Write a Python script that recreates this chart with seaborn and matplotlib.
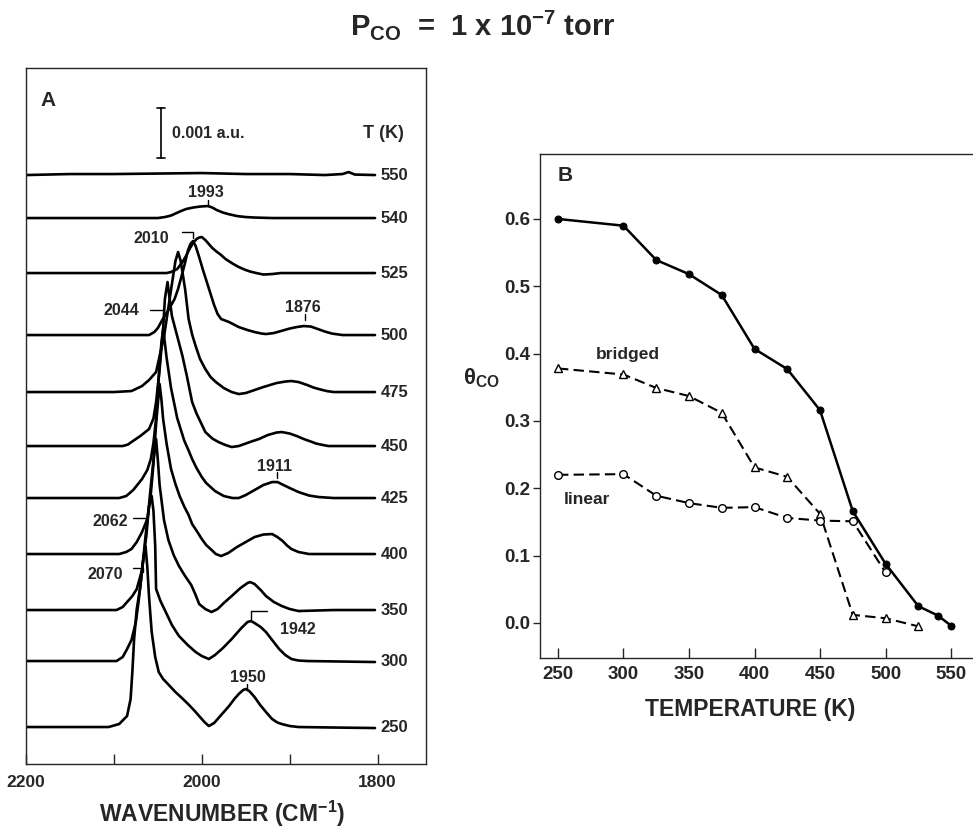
import matplotlib
matplotlib.use('Agg')
import matplotlib.pyplot as plt
import numpy as np
import seaborn as sns

# ---------------- panel A : IR spectra, absorbance in units of 0.001 a.u. ----------------
temps_A = [550, 540, 525, 500, 475, 450, 425, 400, 350, 300, 250]

wn_550 = [2200, 2150, 2100, 2050, 2000, 1950, 1900, 1860, 1840, 1833, 1826, 1803]
ab_550 = [0.0, 0.02, 0.02, 0.03, 0.04, 0.02, 0.02, 0.0, 0.02, 0.06, 0.01, 0.0]

wn_540 = [2200, 2100, 2050, 2042, 2035, 2025, 2018, 2010, 2002, 1993, 1988, 1983, 1976, 1970,
          1960, 1950, 1940, 1920, 1803]
ab_540 = [0.0, 0.0, 0.0, 0.02, 0.05, 0.13, 0.18, 0.21, 0.23, 0.24, 0.21, 0.16, 0.11, 0.08,
          0.04, 0.02, 0.01, 0.0, 0.0]

wn_525 = [2200, 2100, 2040, 2035, 2028, 2022, 2018, 2014, 2010, 2006, 2003, 2000, 1996, 1992,
          1988, 1984, 1978, 1973, 1965, 1958, 1950, 1945, 1938, 1930, 1920, 1910, 1803]
ab_525 = [0.0, 0.0, 0.0, 0.02, 0.08, 0.22, 0.34, 0.48, 0.6, 0.68, 0.71, 0.72, 0.66, 0.58,
          0.5, 0.44, 0.36, 0.28, 0.19, 0.12, 0.06, 0.03, 0.0, -0.03, -0.02, 0.0, 0.0]

wn_500 = [2200, 2100, 2060, 2054, 2050, 2045, 2038, 2031, 2027, 2023, 2019, 2016, 2013, 2010,
          2007, 2003, 1999, 1995, 1990, 1986, 1982, 1978, 1969, 1958, 1948, 1940, 1932, 1927,
          1918, 1910, 1900, 1892, 1884, 1876, 1868, 1860, 1852, 1840, 1803]
ab_500 = [0.0, 0.0, 0.0, 0.06, 0.14, 0.3, 0.5, 0.72, 0.92, 1.18, 1.45, 1.68, 1.82, 1.88,
          1.78, 1.56, 1.32, 1.1, 0.82, 0.6, 0.42, 0.32, 0.26, 0.16, 0.1, 0.06, 0.03, 0.02,
          0.04, 0.08, 0.13, 0.16, 0.18, 0.17, 0.12, 0.07, 0.03, 0.0, 0.0]

wn_475 = [2200, 2100, 2080, 2068, 2060, 2052, 2047, 2043, 2040, 2034, 2030, 2027, 2024, 2019,
          2015, 2011, 2007, 2002, 1996, 1990, 1984, 1975, 1966, 1958, 1950, 1940, 1930, 1915,
          1905, 1898, 1890, 1880, 1873, 1867, 1858, 1850, 1803]
ab_475 = [0.0, 0.0, 0.02, 0.12, 0.24, 0.4, 0.8, 1.1, 1.46, 2.16, 2.62, 2.8, 2.62, 2.06,
          1.46, 1.15, 0.92, 0.66, 0.46, 0.3, 0.2, 0.08, 0.0, -0.04, -0.02, 0.04, 0.1, 0.18,
          0.21, 0.22, 0.2, 0.14, 0.09, 0.06, 0.02, 0.0, 0.0]

wn_450 = [2200, 2090, 2084, 2080, 2070, 2060, 2055, 2052, 2048, 2044, 2042, 2039, 2037, 2034,
          2028, 2022, 2017, 2011, 2006, 2003, 1996, 1988, 1981, 1973, 1966, 1958, 1950, 1942,
          1935, 1925, 1915, 1909, 1900, 1892, 1884, 1876, 1870, 1862, 1856, 1803]
ab_450 = [0.0, 0.0, 0.03, 0.08, 0.2, 0.34, 0.55, 0.88, 1.54, 2.34, 2.94, 3.28, 3.0, 2.6,
          2.2, 1.8, 1.4, 0.88, 0.65, 0.54, 0.28, 0.15, 0.08, 0.02, -0.02, 0.0, 0.05, 0.1,
          0.14, 0.22, 0.27, 0.28, 0.25, 0.2, 0.14, 0.09, 0.05, 0.02, 0.0, 0.0]

wn_425 = [2200, 2094, 2086, 2078, 2068, 2062, 2058, 2055, 2052, 2049, 2046, 2044, 2042, 2040,
          2035, 2028, 2020, 2015, 2011, 2006, 2000, 1995, 1985, 1975, 1965, 1958, 1950, 1940,
          1930, 1920, 1914, 1907, 1900, 1890, 1878, 1867, 1850, 1803]
ab_425 = [0.0, 0.0, 0.04, 0.16, 0.38, 0.56, 0.78, 1.1, 1.6, 2.4, 3.1, 3.38, 3.1, 2.8,
          2.2, 1.6, 1.15, 0.95, 0.78, 0.6, 0.42, 0.3, 0.14, 0.04, 0.0, 0.0, 0.06, 0.16,
          0.26, 0.32, 0.32, 0.26, 0.2, 0.12, 0.05, 0.02, 0.0, 0.0]

wn_400 = [2200, 2094, 2086, 2080, 2074, 2068, 2062, 2058, 2055, 2052, 2049, 2048, 2046, 2044,
          2040, 2035, 2030, 2025, 2020, 2015, 2011, 2005, 2000, 1995, 1990, 1984, 1978, 1970,
          1960, 1950, 1940, 1930, 1920, 1914, 1908, 1903, 1898, 1890, 1878, 1803]
ab_400 = [0.0, 0.0, 0.04, 0.1, 0.24, 0.44, 0.7, 1.2, 1.8, 2.6, 3.2, 3.4, 3.1, 2.7,
          2.2, 1.7, 1.4, 1.15, 0.95, 0.78, 0.6, 0.44, 0.3, 0.18, 0.1, 0.0, -0.04, 0.02,
          0.14, 0.24, 0.34, 0.39, 0.4, 0.34, 0.26, 0.17, 0.1, 0.04, 0.0, 0.0]

wn_350 = [2200, 2097, 2090, 2085, 2079, 2074, 2068, 2063, 2059, 2055, 2052, 2050, 2048, 2043,
          2038, 2032, 2026, 2019, 2012, 2007, 2003, 1996, 1989, 1982, 1975, 1966, 1956, 1948,
          1945, 1940, 1933, 1927, 1918, 1909, 1900, 1890, 1850, 1803]
ab_350 = [0.0, 0.0, 0.06, 0.16, 0.28, 0.42, 0.8, 1.5, 2.3, 3.0, 3.42, 3.0, 2.5, 1.8,
          1.4, 1.1, 0.88, 0.68, 0.5, 0.3, 0.12, 0.02, -0.04, 0.02, 0.14, 0.28, 0.44, 0.54,
          0.56, 0.52, 0.4, 0.28, 0.16, 0.08, 0.02, -0.02, 0.0, 0.0]

wn_300 = [2200, 2097, 2090, 2085, 2080, 2075, 2072, 2068, 2064, 2060, 2057, 2055, 2053, 2052,
          2047, 2041, 2034, 2026, 2016, 2007, 2000, 1992, 1985, 1976, 1966, 1955, 1948, 1944,
          1940, 1933, 1927, 1920, 1912, 1905, 1898, 1890, 1880, 1803]
ab_300 = [0.0, 0.0, 0.08, 0.24, 0.42, 0.78, 1.18, 1.8, 2.5, 3.1, 3.3, 3.0, 2.3, 1.44,
          1.2, 0.98, 0.72, 0.5, 0.32, 0.18, 0.1, 0.04, 0.12, 0.26, 0.44, 0.66, 0.78, 0.8,
          0.76, 0.68, 0.58, 0.42, 0.24, 0.12, 0.04, 0.01, 0.0, -0.02]

wn_250 = [2200, 2106, 2094, 2085, 2081, 2079, 2077, 2074, 2070, 2067, 2064, 2062, 2060, 2057,
          2053, 2049, 2044, 2038, 2030, 2022, 2015, 2008, 2003, 1997, 1992, 1986, 1980, 1974,
          1969, 1963, 1958, 1953, 1950, 1946, 1940, 1934, 1927, 1920, 1914, 1909, 1900, 1890,
          1850, 1803]
ab_250 = [0.0, 0.0, 0.06, 0.22, 0.56, 1.1, 1.76, 2.36, 2.8, 3.3, 3.62, 3.2, 2.6, 1.9,
          1.4, 1.1, 0.96, 0.85, 0.7, 0.57, 0.45, 0.32, 0.22, 0.1, 0.02, 0.08, 0.2, 0.32,
          0.42, 0.56, 0.66, 0.74, 0.76, 0.72, 0.6, 0.45, 0.3, 0.16, 0.09, 0.06, 0.02, 0.0,
          -0.01, -0.02]

# ---------------- panel B : coverage vs temperature ----------------
temps_total = [250, 300, 325, 350, 375, 400, 425, 450, 475, 500, 525, 540, 550]
theta_total = [0.600, 0.590, 0.539, 0.518, 0.487, 0.407, 0.377, 0.316, 0.166, 0.088, 0.025, 0.011, -0.004]

temps_bridged = [250, 300, 325, 350, 375, 400, 425, 450, 475, 500, 525]
theta_bridged = [0.378, 0.369, 0.349, 0.337, 0.312, 0.231, 0.217, 0.162, 0.012, 0.007, -0.005]

temps_linear = [250, 300, 325, 350, 375, 400, 425, 450, 475, 500]
theta_linear = [0.220, 0.221, 0.189, 0.178, 0.171, 0.172, 0.156, 0.152, 0.151, 0.075]


def setup_style():
    sns.set_style('ticks')
    plt.rcParams['font.family'] = ['Liberation Sans', 'DejaVu Sans']
    plt.rcParams['font.weight'] = 'bold'
    plt.rcParams['mathtext.fontset'] = 'custom'
    plt.rcParams['mathtext.rm'] = 'Liberation Sans:bold'
    plt.rcParams['mathtext.it'] = 'Liberation Sans:bold'
    plt.rcParams['mathtext.bf'] = 'Liberation Sans:bold'
    plt.rcParams['lines.dashed_pattern'] = [5, 2.5]
    plt.rcParams['axes.linewidth'] = 1.0


def plot_spectra(ax):
    spectra = [(wn_550, ab_550), (wn_540, ab_540), (wn_525, ab_525), (wn_500, ab_500),
               (wn_475, ab_475), (wn_450, ab_450), (wn_425, ab_425), (wn_400, ab_400),
               (wn_350, ab_350), (wn_300, ab_300), (wn_250, ab_250)]
    # vertical stacking of the traces
    offsets = [11.78, 10.92, 9.82, 8.58, 7.44, 6.36, 5.32, 4.20, 3.08, 2.06, 0.74]

    for temp, (wn, ab), off in zip(temps_A, spectra, offsets):
        sns.lineplot(x=wn, y=np.array(ab) + off, ax=ax, color='black', lw=1.9,
                     sort=False, estimator=None)
        ax.text(1796.5, off, str(temp), ha='left', va='center', fontsize=12, fontweight='bold')

    ax.set_xlim(2200, 1745)
    ax.set_ylim(0, 13.92)
    ax.set_xticks([2200, 2000, 1800])
    ax.set_xticklabels(['2200', '2000', '1800'], fontsize=12.5, fontweight='bold')
    ax.set_xticks([2100, 1900], minor=True)
    ax.set_yticks([])
    ax.tick_params(axis='x', which='both', direction='in', length=7, width=1, pad=8)
    ax.set_xlabel('WAVENUMBER (CM$^{\\mathrm{-1}}$)', fontsize=16.5, fontweight='bold')
    ax.xaxis.set_label_coords(0.49, -0.050)
    ax.set_ylabel('')

    # labels and scale bar
    ax.text(2184, 13.28, 'A', ha='left', va='center', fontsize=15, fontweight='bold')
    ax.plot([2046.6, 2046.6], [12.12, 13.12], color='black', lw=1.2)
    ax.plot([2051.5, 2041.7], [13.12, 13.12], color='black', lw=1.2)
    ax.plot([2051.5, 2041.7], [12.12, 12.12], color='black', lw=1.2)
    ax.text(2034, 12.62, '0.001 a.u.', ha='left', va='center', fontsize=11.5, fontweight='bold')
    ax.text(1817, 12.62, 'T (K)', ha='left', va='center', fontsize=13, fontweight='bold')

    kw = dict(ha='center', va='center', fontsize=11.5, fontweight='bold')
    ax.text(1995.5, 11.44, '1993', **kw)
    ax.plot([1993, 1993], [11.28, 11.16], color='black', lw=1)
    ax.text(2057, 10.52, '2010', **kw)
    ax.plot([2022.7, 2010.2, 2010.2], [10.64, 10.64, 10.52], color='black', lw=1)
    ax.text(2091, 9.08, '2044', **kw)
    ax.plot([2059, 2044.3], [9.08, 9.08], color='black', lw=1)
    ax.text(1885, 9.14, '1876', **kw)
    ax.plot([1883, 1883], [9.0, 8.88], color='black', lw=1)
    ax.text(1917, 5.96, '1911', **kw)
    ax.plot([1915, 1915], [5.84, 5.72], color='black', lw=1)
    ax.text(2104.5, 4.86, '2062', **kw)
    ax.plot([2078.4, 2063.6, 2063.6], [4.92, 4.92, 4.84], color='black', lw=1)
    ax.text(2110, 3.80, '2070', **kw)
    ax.plot([2078.4, 2067, 2067], [3.92, 3.92, 3.84], color='black', lw=1)
    ax.text(1891, 2.70, '1942', **kw)
    ax.plot([1926, 1944.3, 1944.3], [3.06, 3.06, 2.90], color='black', lw=1)
    ax.text(1947.7, 1.74, '1950', **kw)
    ax.plot([1949, 1949], [1.60, 1.48], color='black', lw=1)


def plot_coverage(ax):
    sns.lineplot(x=temps_total, y=theta_total, ax=ax, color='black', lw=1.8,
                 marker='o', ms=5, mfc='black', mec='black', estimator=None)
    sns.lineplot(x=temps_bridged, y=theta_bridged, ax=ax, color='black', lw=1.5, ls='--',
                 marker='^', ms=6, mfc='white', mec='black', mew=1, estimator=None)
    sns.lineplot(x=temps_linear, y=theta_linear, ax=ax, color='black', lw=1.5, ls='--',
                 marker='o', ms=5.5, mfc='white', mec='black', mew=1, estimator=None)

    ax.set_xlim(236.3, 572.1)
    ax.set_ylim(-0.052, 0.6965)
    ax.set_xticks([250, 300, 350, 400, 450, 500, 550])
    ax.set_xticklabels(['250', '300', '350', '400', '450', '500', '550'],
                       fontsize=13.5, fontweight='bold')
    ax.set_yticks([0.0, 0.1, 0.2, 0.3, 0.4, 0.5, 0.6])
    ax.set_yticklabels(['0.0', '0.1', '0.2', '0.3', '0.4', '0.5', '0.6'],
                       fontsize=13.5, fontweight='bold')
    ax.tick_params(axis='x', direction='in', length=7, width=1, pad=6)
    ax.tick_params(axis='y', direction='out', length=5, width=1, pad=2)
    ax.spines['right'].set_visible(False)

    ax.set_xlabel('TEMPERATURE (K)', fontsize=16.5, fontweight='bold')
    ax.xaxis.set_label_coords(0.477, -0.079)
    ax.set_ylabel('θ$_{\\mathrm{CO}}$', fontsize=16, fontweight='bold', rotation=0)
    ax.yaxis.set_label_coords(-0.134, 0.532)

    ax.text(250, 0.665, 'B', ha='left', va='center', fontsize=15, fontweight='bold')
    ax.text(303.5, 0.398, 'bridged', ha='center', va='center', fontsize=12.5, fontweight='bold')
    ax.text(272.2, 0.183, 'linear', ha='center', va='center', fontsize=12.5, fontweight='bold')


def main():
    setup_style()
    fig = plt.figure(figsize=(9.73, 8.35), dpi=100)
    ax_a = fig.add_axes([0.0267, 0.0850, 0.4111, 0.8335])
    ax_b = fig.add_axes([0.5550, 0.2120, 0.4522, 0.6036])

    plot_spectra(ax_a)
    plot_coverage(ax_b)

    fig.text(0.4964, 0.970, 'P$_{\\mathrm{CO}}$  =  1 x 10$^{\\mathrm{-7}}$ torr',
             ha='center', va='center', fontsize=21, fontweight='bold')

    fig.savefig('out.png', dpi=100)
    plt.close(fig)


if __name__ == '__main__':
    main()
